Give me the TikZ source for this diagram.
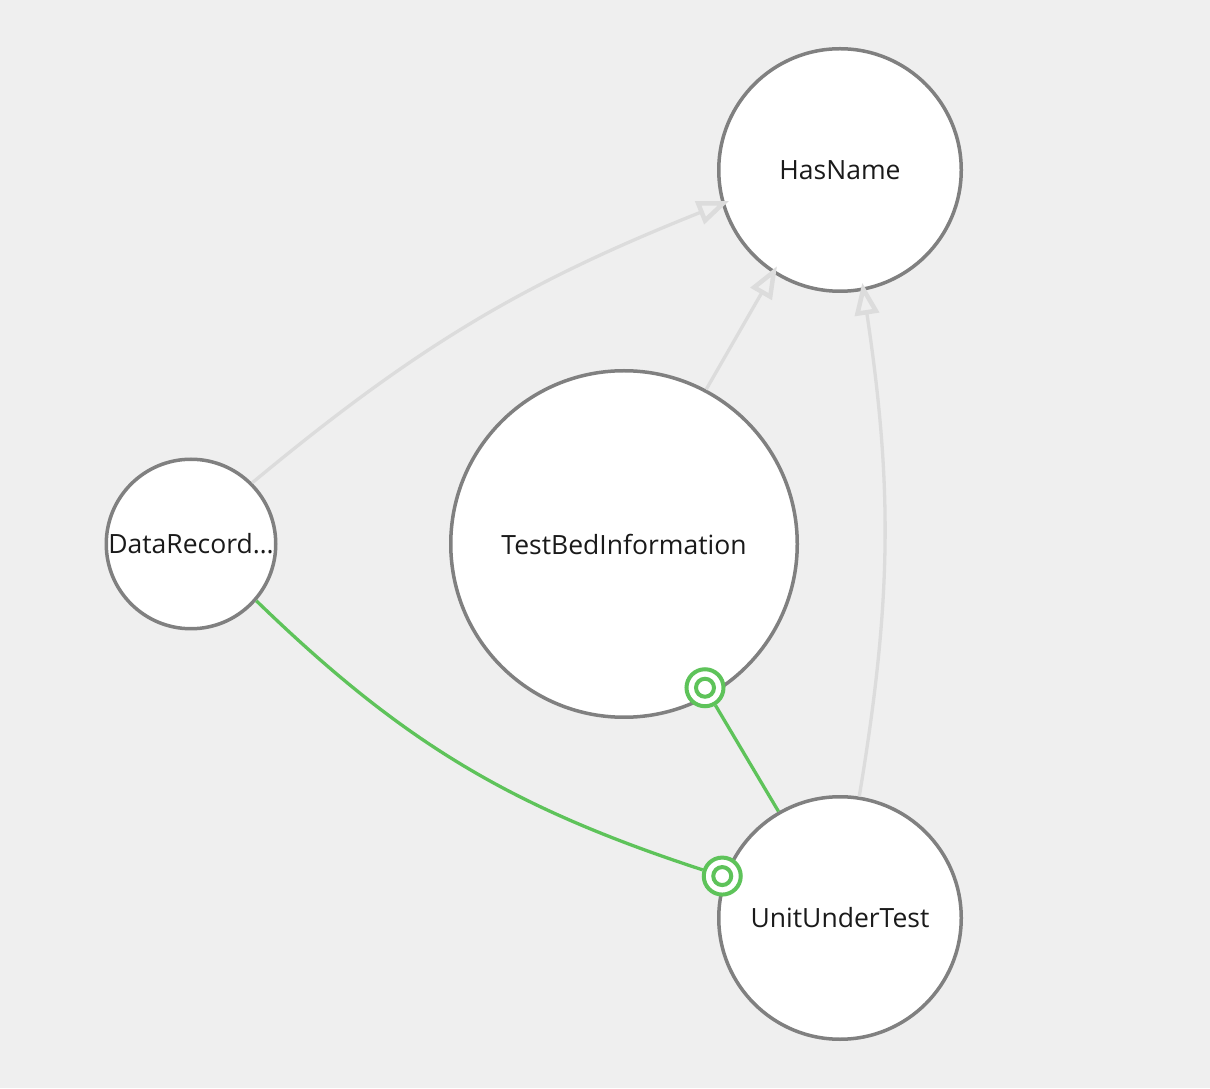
\documentclass[tikz,border=0pt]{standalone}
\usepackage{fontspec}
\setmainfont{Open Sans}
\usetikzlibrary{arrows.meta,calc}
\definecolor{bg}{HTML}{EFEFEF}
\definecolor{ringgray}{HTML}{808080}
\definecolor{edgegray}{HTML}{DCDCDC}
\definecolor{linkgreen}{HTML}{5EC35A}
\definecolor{txt}{HTML}{1A1A1A}
\begin{document}
\begin{tikzpicture}[x=1pt,y=1pt,
  cls/.style={circle, draw=ringgray, line width=3.5pt, fill=white, inner sep=0pt},
  lbl/.style={inner sep=0pt, text=txt, font=\fontsize{26.5}{30}\selectfont},
  inh/.style={draw=edgegray, line width=3.3pt, shorten >=-8pt,
    -{Triangle[open, length=32pt, width=24pt, line width=4.5pt]}},
  assoc/.style={draw=linkgreen, line width=3.3pt},
  mk/.style={circle, draw=linkgreen, line width=4pt, fill=white, minimum size=37pt, inner sep=0pt,
    path picture={\draw[linkgreen, line width=4pt] (path picture bounding box.center) circle (9pt);}}
]
\fill[bg] (0,0) rectangle (1210,1088);
\useasboundingbox (0,0) rectangle (1210,1088);

% classes
\node[cls, minimum size=242.5pt] (hn) at (840,918) {};
\node[cls, minimum size=346.5pt] (tb) at (624,544) {};
\node[cls, minimum size=169.5pt] (dr) at (191,544) {};
\node[cls, minimum size=242.5pt] (uut) at (840,170) {};
\node[lbl] (hnl) at (hn.center) {HasName};
\node[lbl] (tbl) at (tb.center) {TestBedInformation};
\node[lbl] (drl) at (dr.center) {DataRecord…};
\node[lbl] (uutl) at (uut.center) {UnitUnderTest};

% inheritance
\draw[inh] (dr.45) to[bend left=9] (hn.196);
\draw[inh] (tb.62) -- (hn.237);
\draw[inh] (uut.81) to[bend right=9] (hn.281);

% association markers
\node[mk] (m1) at ($(tb.center)+(-60.6:165pt)$) {};
\node[mk] (m2) at ($(uut.center)+(160.4:125pt)$) {};

% associations
\draw[assoc] (dr.-41) to[bend right=13] (m2);
\draw[assoc] (m1) -- (uut.120);
\end{tikzpicture}
\end{document}
